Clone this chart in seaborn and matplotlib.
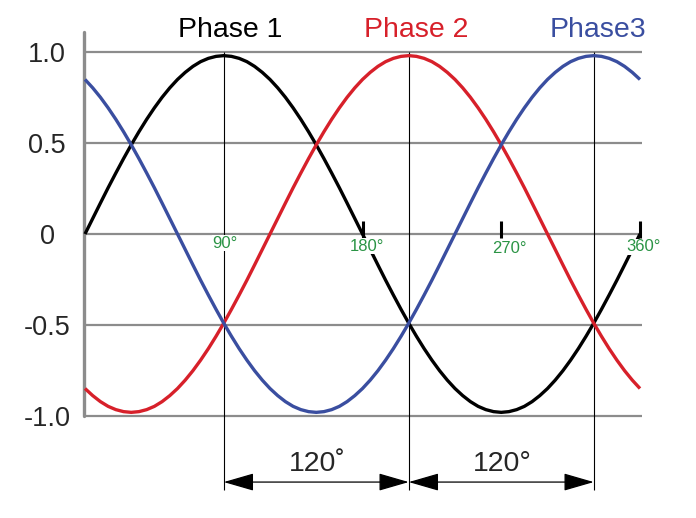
import numpy as np
import pandas as pd
import matplotlib
matplotlib.use("Agg")
import matplotlib.pyplot as plt
import seaborn as sns

# angles in degrees, 5 degree steps
angles = list(range(0, 361, 5))

# values
phase1 = [0.000, 0.085, 0.170, 0.254, 0.335, 0.414, 0.490, 0.562, 0.630, 0.693,
          0.751, 0.803, 0.849, 0.888, 0.921, 0.947, 0.965, 0.976, 0.980,
          0.976, 0.965, 0.947, 0.921, 0.888, 0.849, 0.803, 0.751, 0.693,
          0.630, 0.562, 0.490, 0.414, 0.335, 0.254, 0.170, 0.085, 0.000,
          -0.085, -0.170, -0.254, -0.335, -0.414, -0.490, -0.562, -0.630, -0.693,
          -0.751, -0.803, -0.849, -0.888, -0.921, -0.947, -0.965, -0.976, -0.980,
          -0.976, -0.965, -0.947, -0.921, -0.888, -0.849, -0.803, -0.751, -0.693,
          -0.630, -0.562, -0.490, -0.414, -0.335, -0.254, -0.170, -0.085, 0.000]
phase2 = [-0.849, -0.888, -0.921, -0.947, -0.965, -0.976, -0.980,
          -0.976, -0.965, -0.947, -0.921, -0.888, -0.849, -0.803, -0.751, -0.693,
          -0.630, -0.562, -0.490, -0.414, -0.335, -0.254, -0.170, -0.085,
          0.000, 0.085, 0.170, 0.254, 0.335, 0.414, 0.490, 0.562, 0.630, 0.693,
          0.751, 0.803, 0.849, 0.888, 0.921, 0.947, 0.965, 0.976, 0.980,
          0.976, 0.965, 0.947, 0.921, 0.888, 0.849, 0.803, 0.751, 0.693,
          0.630, 0.562, 0.490, 0.414, 0.335, 0.254, 0.170, 0.085, 0.000,
          -0.085, -0.170, -0.254, -0.335, -0.414, -0.490, -0.562, -0.630, -0.693,
          -0.751, -0.803, -0.849]
phase3 = [0.849, 0.803, 0.751, 0.693, 0.630, 0.562, 0.490, 0.414, 0.335, 0.254,
          0.170, 0.085, 0.000,
          -0.085, -0.170, -0.254, -0.335, -0.414, -0.490, -0.562, -0.630, -0.693,
          -0.751, -0.803, -0.849, -0.888, -0.921, -0.947, -0.965, -0.976, -0.980,
          -0.976, -0.965, -0.947, -0.921, -0.888, -0.849, -0.803, -0.751, -0.693,
          -0.630, -0.562, -0.490, -0.414, -0.335, -0.254, -0.170, -0.085,
          0.000, 0.085, 0.170, 0.254, 0.335, 0.414, 0.490, 0.562, 0.630, 0.693,
          0.751, 0.803, 0.849, 0.888, 0.921, 0.947, 0.965, 0.976, 0.980,
          0.976, 0.965, 0.947, 0.921, 0.888, 0.849]

phase_names = ["Phase 1", "Phase 2", "Phase3"]
phase_colors = ["#000000", "#d7202a", "#3a4ea0"]
phase_label_x = [94, 215, 333]

y_levels = [1.0, 0.5, 0, -0.5, -1.0]
y_labels = ["1.0", "0.5", "0", "-0.5", "-1.0"]

deg_labels = ["90°", "180°", "270°", "360°"]
deg_label_x = [91, 183, 275, 362]
deg_label_y = [-0.05, -0.066, -0.077, -0.071]
tick_angles = [180, 270, 360]

peak_angles = [90, 210, 330]
gap_labels = ["120˚", "120°"]

sns.set_style("white")
plt.rcParams["font.family"] = ["Liberation Sans", "DejaVu Sans"]

fig = plt.figure(figsize=(6.96, 5.18), dpi=100)
ax = fig.add_axes([0, 0, 1, 1])

df = pd.DataFrame({"angle": angles, "Phase 1": phase1, "Phase 2": phase2, "Phase3": phase3})
long = df.melt(id_vars="angle", var_name="phase", value_name="v")

# grid lines and left axis line
ax.hlines(y_levels, 0, 361, color="#8c8c8c", lw=1.6, zorder=1)
ax.plot([-0.6, -0.6], [1.11, -1.0], color="#8c8c8c", lw=2.4, zorder=1)

sns.lineplot(data=long, x="angle", y="v", hue="phase", palette=phase_colors,
             lw=2.4, legend=False, ax=ax, zorder=3,
             solid_joinstyle="round", solid_capstyle="butt")

# vertical lines at the peaks
ax.vlines(peak_angles, -1.407, 1.0, color="black", lw=0.8, zorder=2)

# ticks on the zero line
ax.vlines(tick_angles, -0.022, 0.071, color="black", lw=2.2, zorder=4)

for lab, x, y in zip(deg_labels, deg_label_x, deg_label_y):
    ax.text(x, y, lab, color="#2b9445", fontsize=12, ha="center", va="center",
            zorder=5, bbox=dict(facecolor="white", edgecolor="none", pad=0.5))

for lab, y in zip(y_labels, y_levels):
    ax.text(-24.6, y, lab, fontsize=19.5, ha="center", va="center_baseline")

for name, c, x in zip(phase_names, phase_colors, phase_label_x):
    ax.text(x, 1.082, name, color=c, fontsize=20.5, ha="center", va="baseline")

# 120 degree dimension arrows
for i, lab in enumerate(gap_labels):
    x0, x1 = peak_angles[i], peak_angles[i + 1]
    ax.annotate("", xy=(x1, -1.363), xytext=(x0, -1.363),
                arrowprops=dict(arrowstyle="<|-|>,head_length=1.9,head_width=0.55",
                                mutation_scale=10, color="black", lw=0.9,
                                shrinkA=0, shrinkB=0))
    ax.text((x0 + x1) / 2 + 1, -1.302, lab, fontsize=20.5, ha="center", va="baseline")

ax.set_xlim(-85 / (555 / 360), (696 - 85) / (555 / 360))
ax.set_ylim((234 - 518) / 182, 234 / 182)
ax.axis("off")

fig.savefig("out.png", dpi=100)
